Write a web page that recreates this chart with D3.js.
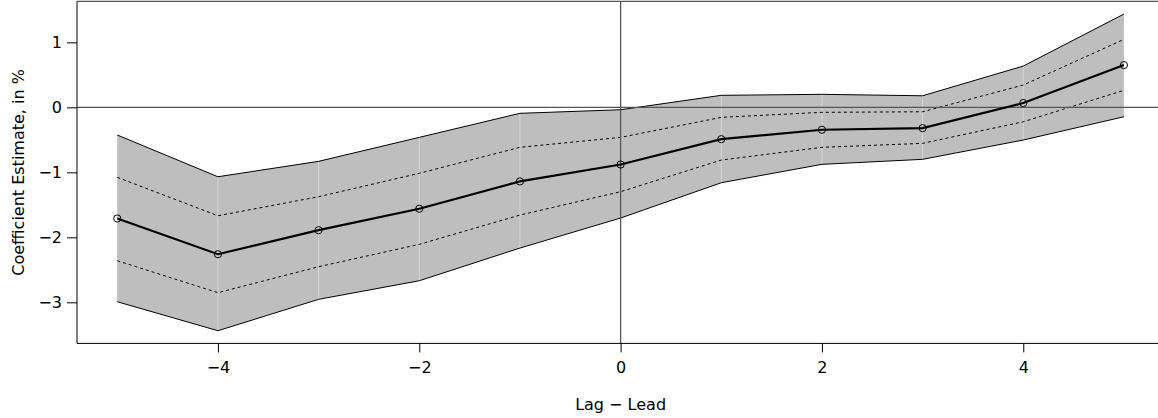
<!DOCTYPE html>
<html>
<head>
<meta charset="utf-8">
<script src="https://cdn.jsdelivr.net/npm/d3@7"></script>
<style>
  body { margin: 0; background: #fff; }
  svg { display: block; font-family: "DejaVu Sans", sans-serif; }
</style>
</head>
<body>
<svg id="chart" width="1158" height="418"></svg>
<script>
// lag - lead periods
const lags = [-5, -4, -3, -2, -1, 0, 1, 2, 3, 4, 5];
// point estimates
const estimate = [-1.71, -2.26, -1.89, -1.56, -1.14, -0.88, -0.49, -0.345, -0.32, 0.066, 0.65];
// inner interval (dashed)
const innerHigh = [-1.077, -1.668, -1.375, -1.015, -0.615, -0.462, -0.154, -0.077, -0.068, 0.343, 1.046];
const innerLow = [-2.36, -2.852, -2.452, -2.108, -1.657, -1.298, -0.811, -0.615, -0.554, -0.222, 0.262];
// outer interval (shaded band)
const outerHigh = [-0.426, -1.068, -0.831, -0.462, -0.092, -0.037, 0.185, 0.2, 0.178, 0.635, 1.435];
const outerLow = [-2.991, -3.437, -2.954, -2.668, -2.165, -1.703, -1.16, -0.877, -0.8, -0.503, -0.145];

const xTicks = [-4, -2, 0, 2, 4];
const yTicks = [-3, -2, -1, 0, 1];

const CFG = {
  left: 77, right: 1164.2, top: 1.4, bottom: 343.4,
  bandFill: '#bebebe',
  refColor: '#555',
  fontSize: 16
};

const svg = d3.select('#chart');
const fmt = d => d < 0 ? '\u2212' + Math.abs(d) : String(d);

// R-style 4% padding around the data range
const x = d3.scaleLinear().domain([-5.4, 5.4]).range([CFG.left, CFG.right]);
const y = d3.scaleLinear().domain([-3.632, 1.63]).range([CFG.bottom, CFG.top]);

const rows = lags.map((l, i) => ({
  lag: l, est: estimate[i],
  ih: innerHigh[i], il: innerLow[i],
  oh: outerHigh[i], ol: outerLow[i]
}));

// shaded band
const area = d3.area().x(d => x(d.lag)).y0(d => y(d.ol)).y1(d => y(d.oh));
svg.append('path').datum(rows)
  .attr('d', area)
  .attr('fill', CFG.bandFill);

// faint seams between the band segments
svg.selectAll('.seam').data(rows.slice(1, -1)).enter()
  .append('line')
  .attr('class', 'seam')
  .attr('x1', d => x(d.lag)).attr('x2', d => x(d.lag))
  .attr('y1', d => y(d.oh)).attr('y2', d => y(d.ol))
  .attr('stroke', '#d6d6d6').attr('stroke-width', 1);

const line = key => d3.line().x(d => x(d.lag)).y(d => y(d[key]));

// band edges
['oh', 'ol'].forEach(k => {
  svg.append('path').datum(rows).attr('d', line(k))
    .attr('fill', 'none').attr('stroke', '#000').attr('stroke-width', 1);
});

// dashed inner interval
['ih', 'il'].forEach(k => {
  svg.append('path').datum(rows).attr('d', line(k))
    .attr('fill', 'none').attr('stroke', '#000').attr('stroke-width', 1)
    .attr('stroke-dasharray', '3,3');
});

// reference lines at zero
svg.append('line')
  .attr('x1', CFG.left).attr('x2', 1158)
  .attr('y1', y(0)).attr('y2', y(0))
  .attr('stroke', CFG.refColor).attr('stroke-width', 1.3);
svg.append('line')
  .attr('x1', x(0)).attr('x2', x(0))
  .attr('y1', CFG.top).attr('y2', CFG.bottom)
  .attr('stroke', CFG.refColor).attr('stroke-width', 1.3);

// estimate line + circles
svg.append('path').datum(rows).attr('d', line('est'))
  .attr('fill', 'none').attr('stroke', '#000').attr('stroke-width', 2.2);
svg.selectAll('.pt').data(rows).enter()
  .append('circle')
  .attr('class', 'pt')
  .attr('cx', d => x(d.lag)).attr('cy', d => y(d.est))
  .attr('r', 3.6)
  .attr('fill', 'none').attr('stroke', '#000').attr('stroke-width', 1);

// plot box: top edge looks grey in the original, left/bottom solid black
svg.append('line')
  .attr('x1', CFG.left).attr('x2', CFG.right)
  .attr('y1', CFG.top).attr('y2', CFG.top)
  .attr('stroke', CFG.refColor).attr('stroke-width', 1.2);
svg.append('line')
  .attr('x1', CFG.left).attr('x2', CFG.left)
  .attr('y1', CFG.top).attr('y2', CFG.bottom)
  .attr('stroke', '#000').attr('stroke-width', 1);
svg.append('line')
  .attr('x1', CFG.left).attr('x2', CFG.right)
  .attr('y1', CFG.bottom).attr('y2', CFG.bottom)
  .attr('stroke', '#000').attr('stroke-width', 1);

// axes
const xAxis = d3.axisBottom(x).tickValues(xTicks).tickFormat(fmt).tickSize(9).tickPadding(9);
const gx = svg.append('g').attr('transform', `translate(0,${CFG.bottom})`).call(xAxis);
const yAxis = d3.axisLeft(y).tickValues(yTicks).tickFormat(fmt).tickSize(10).tickPadding(5);
const gy = svg.append('g').attr('transform', `translate(${CFG.left},0)`).call(yAxis);
[gx, gy].forEach(g => {
  g.select('.domain').remove();
  g.selectAll('text').attr('font-size', CFG.fontSize).attr('font-family', '"DejaVu Sans", sans-serif').attr('fill', '#000');
  g.selectAll('line').attr('stroke', '#000');
});

// axis titles
svg.append('text')
  .attr('x', x(0)).attr('y', 410)
  .attr('text-anchor', 'middle')
  .attr('font-size', CFG.fontSize)
  .text('Lag \u2212 Lead');
svg.append('text')
  .attr('transform', `translate(24,${(CFG.top + CFG.bottom) / 2}) rotate(-90)`)
  .attr('text-anchor', 'middle')
  .attr('font-size', CFG.fontSize)
  .text('Coefficient Estimate, in %');
</script>
</body>
</html>
